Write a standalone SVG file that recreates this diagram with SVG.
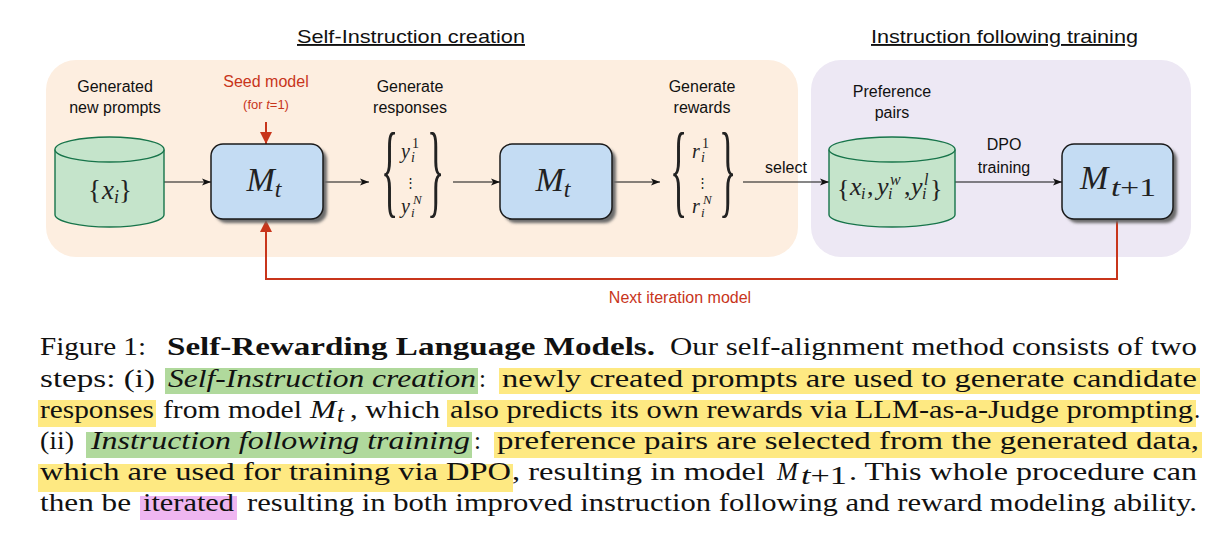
<svg xmlns="http://www.w3.org/2000/svg" width="1228" height="544" viewBox="0 0 1228 544">
<style>
.sans{font-family:"Liberation Sans",Arial,sans-serif;}
.lbl{font-family:"Liberation Sans",Arial,sans-serif;font-size:16px;fill:#111;text-anchor:middle;}
.red{fill:#c8351b;}
.title{font-family:"Liberation Sans",Arial,sans-serif;font-size:19px;fill:#111;text-decoration:underline;}
.math{font-family:"Liberation Serif","Times New Roman",serif;fill:#222;}
.it{font-style:italic;}
.cap{font-family:"Liberation Serif","Times New Roman",serif;font-size:25px;fill:#111;}
.cyl{fill:#c5e4cb;stroke:#17744a;stroke-width:1.4;}
.box{fill:#c4dcf3;stroke:#1a1a1a;stroke-width:1.5;}
.shadow{fill:#6b6b6b;}
.edge{stroke:#111;stroke-width:1.2;fill:none;}
.redline{stroke:#c8351b;stroke-width:2;fill:none;}
.hg{fill:#b0d99c;}
.hy{fill:#fee982;}
.hp{fill:#efb6f1;}
.vd{font-family:"DejaVu Serif",serif;font-size:13px;fill:#222;text-anchor:middle;}
</style>
<defs>
<marker id="ah" markerUnits="userSpaceOnUse" markerWidth="10" markerHeight="8" refX="9" refY="4" orient="auto">
<path d="M0,0.5 L9,4 L0,7.5 L2.2,4 z" fill="#111"/>
</marker>
<marker id="ahr" markerUnits="userSpaceOnUse" markerWidth="13" markerHeight="13" refX="12" refY="6.5" orient="auto">
<path d="M0,0.5 L12,6.5 L0,12.5 z" fill="#c8351b"/>
</marker>
<filter id="blur" x="-10%" y="-10%" width="120%" height="120%"><feGaussianBlur stdDeviation="1.4"/></filter>
</defs>

<rect width="1228" height="544" fill="#ffffff"/>

<!-- panels -->
<g id="panel-self-instruction">
<rect x="46" y="60" width="752" height="197" rx="30" fill="#fdeee0"/>
<text class="title" x="411" y="43" text-anchor="middle" textLength="228" lengthAdjust="spacingAndGlyphs">Self-Instruction creation</text>
</g>
<g id="panel-instruction-following">
<rect x="811" y="60" width="380" height="197" rx="30" fill="#ede8f4"/>
<text class="title" x="1004.5" y="43" text-anchor="middle" textLength="267" lengthAdjust="spacingAndGlyphs">Instruction following training</text>
</g>

<!-- connectors -->
<g id="connectors">
<line class="edge" x1="164" y1="182" x2="211" y2="182" marker-end="url(#ah)"/>
<line class="edge" x1="323" y1="182" x2="369" y2="182" marker-end="url(#ah)"/>
<line class="edge" x1="453" y1="182" x2="500" y2="182" marker-end="url(#ah)"/>
<line class="edge" x1="612" y1="182" x2="660" y2="182" marker-end="url(#ah)"/>
<line class="edge" x1="743" y1="182" x2="829" y2="182" marker-end="url(#ah)"/>
<text class="lbl" x="786" y="173">select</text>
<line class="edge" x1="955" y1="182" x2="1062" y2="182" marker-end="url(#ah)"/>
<text class="lbl" x="1004" y="150">DPO</text>
<text class="lbl" x="1004" y="173">training</text>
<line class="redline" x1="266" y1="122" x2="266" y2="144" marker-end="url(#ahr)"/>
<polyline class="redline" points="1117,219 1117,279 266,279 266,220" marker-end="url(#ahr)"/>
<text class="lbl red" x="680" y="303">Next iteration model</text>
</g>

<!-- cylinder 1 -->
<g id="node-prompts">
<text class="lbl" x="115" y="92">Generated</text>
<text class="lbl" x="115" y="113">new prompts</text>
<path class="cyl" d="M55,149.5 L55,214.5 A54.5,12.5 0 0 0 164,214.5 L164,149.5"/>
<ellipse class="cyl" cx="109.5" cy="149.5" rx="54.5" ry="12.5"/>
<g class="math" font-size="27">
<text x="88" y="199">{</text>
<text class="it" x="102" y="199">x</text>
<text class="it" x="114" y="203" font-size="18">i</text>
<text x="119" y="199">}</text>
</g>
</g>

<!-- Mt box 1 -->
<g id="node-mt1">
<text class="lbl red" x="266" y="87" font-size="17">Seed model</text>
<text class="sans red" x="266" y="109" font-size="13" text-anchor="middle">(for <tspan font-style="italic">t</tspan>=1)</text>
<rect class="shadow" x="215" y="148" width="112" height="75" rx="12" filter="url(#blur)"/>
<rect class="box" x="211" y="144" width="112" height="75" rx="12"/>
<text class="math it" x="264" y="191" font-size="34" text-anchor="middle">M<tspan font-size="24" dy="6">t</tspan></text>
</g>

<!-- responses -->
<g id="node-responses">
<text class="lbl" x="410" y="92">Generate</text>
<text class="lbl" x="410" y="113">responses</text>
<text class="math" font-size="100" transform="translate(381,204) scale(0.36,1.03)">{</text>
<text class="math" font-size="100" transform="translate(427,204) scale(0.36,1.03)">}</text>
<text class="math it" x="401" y="158" font-size="20">y<tspan font-size="14" x="411" dy="4">i</tspan><tspan font-size="14" font-style="normal" x="412" dy="-14">1</tspan></text>
<text class="vd" x="410" y="187">⋮</text>
<text class="math it" x="401" y="213" font-size="20">y<tspan font-size="13" x="411" dy="4">i</tspan><tspan font-size="13" x="413" dy="-13">N</tspan></text>
</g>

<!-- Mt box 2 -->
<g id="node-mt2">
<rect class="shadow" x="504" y="148" width="112" height="75" rx="12" filter="url(#blur)"/>
<rect class="box" x="500" y="144" width="112" height="75" rx="12"/>
<text class="math it" x="553" y="191" font-size="34" text-anchor="middle">M<tspan font-size="24" dy="6">t</tspan></text>
</g>

<!-- rewards -->
<g id="node-rewards">
<text class="lbl" x="702" y="92">Generate</text>
<text class="lbl" x="702" y="113">rewards</text>
<text class="math" font-size="100" transform="translate(670,204) scale(0.36,1.03)">{</text>
<text class="math" font-size="100" transform="translate(719,204) scale(0.36,1.03)">}</text>
<text class="math it" x="692" y="158" font-size="20">r<tspan font-size="14" x="701" dy="4">i</tspan><tspan font-size="14" font-style="normal" x="702" dy="-14">1</tspan></text>
<text class="vd" x="702" y="187">⋮</text>
<text class="math it" x="692" y="213" font-size="20">r<tspan font-size="13" x="701" dy="4">i</tspan><tspan font-size="13" x="703" dy="-13">N</tspan></text>
</g>

<!-- cylinder 2 -->
<g id="node-pairs">
<text class="lbl" x="892" y="97">Preference</text>
<text class="lbl" x="892" y="118">pairs</text>
<path class="cyl" d="M829,149.5 L829,214.5 A63,12.5 0 0 0 955,214.5 L955,149.5"/>
<ellipse class="cyl" cx="892" cy="149.5" rx="63" ry="12.5"/>
<g class="math" font-size="26">
<text x="837" y="197">{</text>
<text class="it" x="850" y="195">x</text>
<text class="it" x="861" y="199" font-size="16">i</text>
<text x="867" y="195">,</text>
<text class="it" x="877" y="195">y</text>
<text class="it" x="888" y="199" font-size="16">i</text>
<text class="it" x="890" y="185" font-size="16">w</text>
<text x="904" y="195">,</text>
<text class="it" x="911" y="195">y</text>
<text class="it" x="922" y="199" font-size="16">i</text>
<text class="it" x="924" y="185" font-size="16">l</text>
<text x="930" y="197">}</text>
</g>
</g>

<!-- Mt+1 box -->
<g id="node-mt-next">
<rect class="shadow" x="1066" y="148" width="111" height="75" rx="12" filter="url(#blur)"/>
<rect class="box" x="1062" y="144" width="111" height="75" rx="12"/>
<text class="math it" x="1080" y="189" font-size="34">M</text>
<text class="math" x="1111" y="196" font-size="25" textLength="45" lengthAdjust="spacingAndGlyphs"><tspan font-style="italic">t</tspan>+1</text>
</g>

<!-- caption -->
<g id="caption">
<rect class="hg" x="165" y="368" width="313" height="26"/>
<rect class="hy" x="499" y="368" width="701" height="26"/>
<rect class="hy" x="38" y="400" width="118" height="27"/>
<rect class="hy" x="447" y="400" width="749" height="27"/>
<rect class="hg" x="86" y="432" width="386" height="26"/>
<rect class="hy" x="494" y="432" width="708" height="26"/>
<rect class="hy" x="38" y="464" width="475" height="28"/>
<rect class="hp" x="140" y="496" width="97" height="24"/>

<text class="cap" x="40" y="355" textLength="106" lengthAdjust="spacingAndGlyphs">Figure 1:</text>
<text class="cap" x="167" y="355" font-weight="bold" textLength="488" lengthAdjust="spacingAndGlyphs">Self-Rewarding Language Models.</text>
<text class="cap" x="670" y="355" textLength="527" lengthAdjust="spacingAndGlyphs">Our self-alignment method consists of two</text>

<text class="cap" x="40" y="387" textLength="115" lengthAdjust="spacingAndGlyphs">steps: (i)</text>
<text class="cap" x="168" y="387" font-style="italic" textLength="308" lengthAdjust="spacingAndGlyphs">Self-Instruction creation</text>
<text class="cap" x="479" y="387">:</text>
<text class="cap" x="502" y="387" textLength="695" lengthAdjust="spacingAndGlyphs">newly created prompts are used to generate candidate</text>

<text class="cap" x="40" y="418" textLength="114" lengthAdjust="spacingAndGlyphs">responses</text>
<text class="cap" x="163" y="418" textLength="139" lengthAdjust="spacingAndGlyphs">from model</text>
<text class="cap" x="310" y="418" font-style="italic" textLength="26" lengthAdjust="spacingAndGlyphs">M</text>
<text class="cap" x="337" y="422" font-style="italic" font-size="18">t</text>
<text class="cap" x="350" y="418" textLength="90" lengthAdjust="spacingAndGlyphs">, which</text>
<text class="cap" x="450" y="418" textLength="743" lengthAdjust="spacingAndGlyphs">also predicts its own rewards via LLM-as-a-Judge prompting</text>
<text class="cap" x="1194" y="418">.</text>

<text class="cap" x="40" y="449" textLength="34" lengthAdjust="spacingAndGlyphs">(ii)</text>
<text class="cap" x="91" y="449" font-style="italic" textLength="379" lengthAdjust="spacingAndGlyphs">Instruction following training</text>
<text class="cap" x="474" y="449">:</text>
<text class="cap" x="497" y="449" textLength="702" lengthAdjust="spacingAndGlyphs">preference pairs are selected from the generated data,</text>

<text class="cap" x="40" y="480" textLength="471" lengthAdjust="spacingAndGlyphs">which are used for training via DPO</text>
<text class="cap" x="512" y="480" textLength="253" lengthAdjust="spacingAndGlyphs">, resulting in model</text>
<text class="cap" x="777" y="480" font-style="italic">M</text>
<text class="cap" x="801" y="484" font-size="19" textLength="46" lengthAdjust="spacingAndGlyphs"><tspan font-style="italic">t</tspan>+1</text>
<text class="cap" x="849" y="480" textLength="348" lengthAdjust="spacingAndGlyphs">. This whole procedure can</text>

<text class="cap" x="40" y="511" textLength="91" lengthAdjust="spacingAndGlyphs">then be</text>
<text class="cap" x="143" y="511" textLength="91" lengthAdjust="spacingAndGlyphs">iterated</text>
<text class="cap" x="247" y="511" textLength="950" lengthAdjust="spacingAndGlyphs">resulting in both improved instruction following and reward modeling ability.</text>
</g>
</svg>
